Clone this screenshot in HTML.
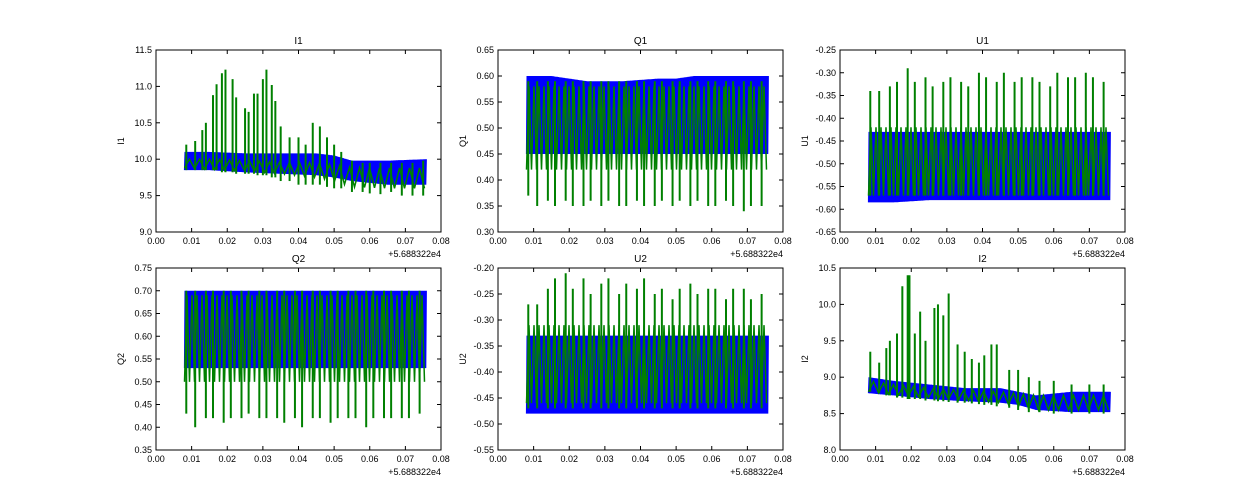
<!DOCTYPE html>
<html><head><meta charset="utf-8"><style>
body{margin:0;background:#fff}
svg{display:block;font-family:"Liberation Sans",sans-serif}
</style></head><body>
<svg id="fig" width="1250" height="500" viewBox="0 0 1250 500"></svg>
<script>
const xTicks=[0.00,0.01,0.02,0.03,0.04,0.05,0.06,0.07,0.08];
const blueX=[0.008,0.015,0.025,0.035,0.045,0.05,0.055,0.065,0.076];
const spikeXReg=[0.0085,0.011,0.014,0.016,0.019,0.021,0.024,0.026,0.029,0.031,0.034,0.036,0.039,0.041,0.044,0.046,0.049,0.051,0.054,0.056,0.059,0.061,0.064,0.066,0.069,0.071,0.074];

const i1BlueLo=[9.85,9.85,9.82,9.8,9.78,9.75,9.7,9.65,9.65];
const i1BlueHi=[10.1,10.1,10.08,10.08,10.08,10.05,9.98,9.98,10.0];
const i1GreenLo=[9.88,9.86,9.84,9.8,9.75,9.7,9.62,9.6,9.6];
const i1GreenHi=[10.0,10.0,9.98,9.96,9.95,9.92,9.88,9.88,9.88];
const i1SpikeX=[0.0085,0.011,0.013,0.014,0.016,0.017,0.0185,0.0195,0.0215,0.0225,0.025,0.026,0.0275,0.0285,0.030,0.031,0.0325,0.0335,0.035,0.0375,0.040,0.042,0.044,0.046,0.048,0.050,0.052,0.055,0.058,0.060,0.063,0.066,0.069,0.072,0.075];
const i1SpikeTop=[10.2,10.25,10.4,10.5,10.88,11.03,11.18,11.23,11.1,10.85,10.7,10.65,10.9,10.9,11.1,11.23,11.02,10.8,10.45,10.3,10.3,10.2,10.5,10.45,10.3,10.2,10.1,9.98,9.95,9.95,9.95,9.95,9.95,9.95,9.98];
const i1SpikeBot=[9.85,9.85,9.85,9.85,9.85,9.85,9.82,9.82,9.82,9.8,9.8,9.8,9.8,9.78,9.78,9.78,9.75,9.75,9.7,9.7,9.65,9.65,9.65,9.65,9.62,9.6,9.6,9.55,9.55,9.53,9.52,9.55,9.5,9.5,9.5];

const q1BlueLo=[0.45,0.45,0.45,0.45,0.45,0.45,0.45,0.45,0.45];
const q1BlueHi=[0.60,0.60,0.59,0.59,0.595,0.595,0.60,0.60,0.60];
const q1GreenLo=[0.42,0.42,0.42,0.42,0.42,0.42,0.42,0.42,0.42];
const q1GreenHi=[0.58,0.58,0.58,0.58,0.58,0.58,0.58,0.58,0.58];
const q1SpikeTop=[0.59,0.59,0.59,0.59,0.59,0.59,0.59,0.59,0.59,0.59,0.59,0.59,0.59,0.59,0.59,0.59,0.59,0.59,0.59,0.59,0.59,0.59,0.59,0.59,0.59,0.59,0.59];
const q1SpikeBot=[0.37,0.35,0.36,0.35,0.36,0.35,0.35,0.36,0.35,0.36,0.35,0.35,0.36,0.35,0.35,0.36,0.35,0.36,0.35,0.36,0.35,0.35,0.36,0.35,0.34,0.35,0.35];

const u1BlueLo=[-0.585,-0.585,-0.58,-0.58,-0.58,-0.58,-0.58,-0.58,-0.58];
const u1BlueHi=[-0.43,-0.43,-0.43,-0.43,-0.43,-0.43,-0.43,-0.43,-0.43];
const u1GreenLo=[-0.57,-0.57,-0.57,-0.57,-0.57,-0.57,-0.57,-0.57,-0.57];
const u1GreenHi=[-0.42,-0.42,-0.42,-0.42,-0.42,-0.42,-0.42,-0.42,-0.42];
const u1SpikeTop=[-0.34,-0.34,-0.33,-0.32,-0.29,-0.32,-0.31,-0.33,-0.32,-0.31,-0.32,-0.33,-0.30,-0.31,-0.32,-0.30,-0.32,-0.31,-0.31,-0.32,-0.33,-0.30,-0.31,-0.31,-0.30,-0.31,-0.32];
const u1SpikeBot=[-0.57,-0.57,-0.57,-0.57,-0.57,-0.57,-0.57,-0.57,-0.57,-0.57,-0.57,-0.57,-0.57,-0.57,-0.57,-0.57,-0.57,-0.57,-0.57,-0.57,-0.57,-0.57,-0.57,-0.57,-0.57,-0.57,-0.57];

const q2BlueLo=[0.53,0.53,0.53,0.53,0.53,0.53,0.53,0.53,0.53];
const q2BlueHi=[0.70,0.70,0.70,0.70,0.70,0.70,0.70,0.70,0.70];
const q2GreenLo=[0.50,0.50,0.50,0.50,0.50,0.50,0.50,0.50,0.50];
const q2GreenHi=[0.69,0.69,0.69,0.69,0.69,0.69,0.69,0.69,0.69];
const q2SpikeTop=[0.70,0.70,0.70,0.70,0.70,0.70,0.70,0.70,0.70,0.70,0.70,0.70,0.70,0.70,0.70,0.70,0.70,0.70,0.70,0.70,0.70,0.70,0.70,0.70,0.70,0.70,0.70];
const q2SpikeBot=[0.43,0.40,0.42,0.42,0.41,0.42,0.42,0.43,0.42,0.42,0.42,0.41,0.42,0.40,0.42,0.42,0.41,0.42,0.42,0.42,0.40,0.42,0.42,0.42,0.42,0.42,0.43];

const u2BlueLo=[-0.48,-0.48,-0.48,-0.48,-0.48,-0.48,-0.48,-0.48,-0.48];
const u2BlueHi=[-0.33,-0.33,-0.33,-0.33,-0.33,-0.33,-0.33,-0.33,-0.33];
const u2GreenLo=[-0.46,-0.46,-0.46,-0.46,-0.46,-0.46,-0.46,-0.46,-0.46];
const u2GreenHi=[-0.31,-0.31,-0.31,-0.31,-0.31,-0.31,-0.31,-0.31,-0.31];
const u2SpikeTop=[-0.27,-0.27,-0.24,-0.22,-0.21,-0.24,-0.22,-0.25,-0.23,-0.22,-0.25,-0.23,-0.24,-0.22,-0.25,-0.24,-0.26,-0.24,-0.23,-0.25,-0.24,-0.24,-0.26,-0.24,-0.24,-0.26,-0.25];
const u2SpikeBot=[-0.47,-0.47,-0.47,-0.47,-0.47,-0.47,-0.47,-0.47,-0.47,-0.47,-0.47,-0.47,-0.47,-0.47,-0.47,-0.47,-0.47,-0.47,-0.47,-0.47,-0.47,-0.47,-0.47,-0.47,-0.47,-0.47,-0.47];

const i2BlueLo=[8.78,8.75,8.7,8.67,8.65,8.62,8.55,8.52,8.52];
const i2BlueHi=[9.0,8.95,8.9,8.85,8.85,8.8,8.75,8.8,8.8];
const i2GreenLo=[8.8,8.76,8.72,8.68,8.65,8.6,8.55,8.55,8.55];
const i2GreenHi=[8.95,8.9,8.85,8.82,8.8,8.78,8.75,8.75,8.75];
const i2SpikeX=[0.0085,0.011,0.013,0.014,0.016,0.0175,0.019,0.0195,0.021,0.0225,0.024,0.0265,0.0275,0.029,0.0305,0.033,0.035,0.037,0.039,0.0405,0.0425,0.044,0.0475,0.050,0.053,0.056,0.060,0.065,0.070,0.074];
const i2SpikeTop=[9.35,9.2,9.4,9.5,9.6,10.25,10.4,10.4,9.6,9.9,9.5,9.95,10.0,9.85,10.15,9.45,9.35,9.25,9.2,9.3,9.45,9.45,9.1,9.1,9.0,8.95,8.95,8.9,8.9,8.9];
const i2SpikeBot=[8.8,8.78,8.75,8.75,8.72,8.72,8.7,8.7,8.7,8.7,8.68,8.68,8.67,8.67,8.66,8.65,8.65,8.64,8.63,8.62,8.62,8.6,8.58,8.55,8.52,8.52,8.5,8.5,8.5,8.5];

const panels=[
 {name:"i1",title:"I1",col:0,row:0,yMin:9,yMax:11.5,yTicks:[9.0,9.5,10.0,10.5,11.0,11.5],dec:1,gStep:5,bLo:i1BlueLo,bHi:i1BlueHi,gLo:i1GreenLo,gHi:i1GreenHi,sX:i1SpikeX,sT:i1SpikeTop,sB:i1SpikeBot},
 {name:"q1",title:"Q1",col:1,row:0,yMin:0.30,yMax:0.65,yTicks:[0.30,0.35,0.40,0.45,0.50,0.55,0.60,0.65],dec:2,gStep:2.5,bLo:q1BlueLo,bHi:q1BlueHi,gLo:q1GreenLo,gHi:q1GreenHi,sX:spikeXReg,sT:q1SpikeTop,sB:q1SpikeBot},
 {name:"u1",title:"U1",col:2,row:0,yMin:-0.65,yMax:-0.25,yTicks:[-0.65,-0.60,-0.55,-0.50,-0.45,-0.40,-0.35,-0.30,-0.25],dec:2,gStep:2.5,bLo:u1BlueLo,bHi:u1BlueHi,gLo:u1GreenLo,gHi:u1GreenHi,sX:spikeXReg,sT:u1SpikeTop,sB:u1SpikeBot},
 {name:"q2",title:"Q2",col:0,row:1,yMin:0.35,yMax:0.75,yTicks:[0.35,0.40,0.45,0.50,0.55,0.60,0.65,0.70,0.75],dec:2,gStep:2.5,bLo:q2BlueLo,bHi:q2BlueHi,gLo:q2GreenLo,gHi:q2GreenHi,sX:spikeXReg,sT:q2SpikeTop,sB:q2SpikeBot},
 {name:"u2",title:"U2",col:1,row:1,yMin:-0.55,yMax:-0.20,yTicks:[-0.55,-0.50,-0.45,-0.40,-0.35,-0.30,-0.25,-0.20],dec:2,gStep:2.5,bLo:u2BlueLo,bHi:u2BlueHi,gLo:u2GreenLo,gHi:u2GreenHi,sX:spikeXReg,sT:u2SpikeTop,sB:u2SpikeBot},
 {name:"i2",title:"I2",col:2,row:1,yMin:8.0,yMax:10.5,yTicks:[8.0,8.5,9.0,9.5,10.0,10.5],dec:1,gStep:5,bLo:i2BlueLo,bHi:i2BlueHi,gLo:i2GreenLo,gHi:i2GreenHi,sX:i2SpikeX,sT:i2SpikeTop,sB:i2SpikeBot}
];

const NS="http://www.w3.org/2000/svg";
const svg=document.getElementById('fig');
function mk(tag,attrs,parent){const e=document.createElementNS(NS,tag);for(const k in attrs)e.setAttribute(k,attrs[k]);(parent||svg).appendChild(e);return e;}
function interp(xs,ys,x){if(x<=xs[0])return ys[0];for(let i=1;i<xs.length;i++){if(x<=xs[i]){const t=(x-xs[i-1])/(xs[i]-xs[i-1]);return ys[i-1]+t*(ys[i]-ys[i-1]);}}return ys[ys.length-1];}
const colL=[156,498,840],rowT=[50,268],W=285,H=182;

panels.forEach(p=>{
 const L=colL[p.col],T=rowT[p.row];
 const g=mk('g',{});
 
 
 const X=v=>L+(v-xTicks[0])/(xTicks[xTicks.length-1]-xTicks[0])*W;
 const Y=v=>T+H-(v-p.yMin)/(p.yMax-p.yMin)*H;
 const cg=mk('clipPath',{id:'c'+p.name},g);mk('rect',{x:L,y:T,width:W,height:H},cg);
 const plot=mk('g',{'clip-path':'url(#c'+p.name+')'},g);
 let d='',k=0;const x0=X(blueX[0]),x1=X(blueX[blueX.length-1]);
 for(let px=x0;px<=x1;px+=0.6,k++){const v=(px-L)/W*(xTicks[8]-xTicks[0]);const val=k%2?interp(blueX,p.bHi,v):interp(blueX,p.bLo,v);d+=(k?'L':'M')+px.toFixed(1)+' '+Y(val).toFixed(1);}
 const bl=mk('path',{d:d,fill:'none',stroke:'#0000ff','stroke-width':1.2},plot);
 
 
 d='';k=0;
 for(let px=x0;px<=x1;px+=p.gStep,k++){const v=(px-L)/W*(xTicks[8]-xTicks[0]);const val=k%2?interp(blueX,p.gHi,v):interp(blueX,p.gLo,v);d+=(k?'L':'M')+px.toFixed(1)+' '+Y(val).toFixed(1);}
 const gl=mk('path',{d:d,fill:'none',stroke:'#008000','stroke-width':1.5},plot);
 
 
 p.sX.forEach((sx,i)=>{
  const s=mk('line',{x1:X(sx),x2:X(sx),y1:Y(p.sT[i]),y2:Y(p.sB[i]),stroke:'#008000','stroke-width':2},plot);
  
  
 });
 const fr=mk('rect',{x:L,y:T,width:W,height:H,fill:'none',stroke:'#000','stroke-width':1},g);
 
 
 xTicks.forEach(t=>{
  const x=X(t);
  mk('line',{x1:x,x2:x,y1:T+H,y2:T+H-4,stroke:'#000'},g);
  mk('line',{x1:x,x2:x,y1:T,y2:T+4,stroke:'#000'},g);
  const tx=mk('text',{x:x,y:T+H+12,'font-size':9,'text-anchor':'middle',fill:'#000'},g);
  tx.textContent=t.toFixed(2);
  
  
 });
 p.yTicks.forEach(t=>{
  const y=Y(t);
  mk('line',{x1:L,x2:L+4,y1:y,y2:y,stroke:'#000'},g);
  mk('line',{x1:L+W,x2:L+W-4,y1:y,y2:y,stroke:'#000'},g);
  const tx=mk('text',{x:L-4,y:y+3,'font-size':9,'text-anchor':'end',fill:'#000'},g);
  tx.textContent=t.toFixed(p.dec);
  
  
 });
 const off=mk('text',{x:L+W,y:T+H+25,'font-size':9,'text-anchor':'end',fill:'#000'},g);
 off.textContent='+5.688322e4';
 
 
 const ti=mk('text',{x:L+W/2,y:T-6,'font-size':10,'text-anchor':'middle',fill:'#000'},g);
 ti.textContent=p.title;
 
 
 const yl=mk('text',{x:0,y:0,'font-size':9,'text-anchor':'middle',fill:'#000',transform:'translate('+(L-32)+','+(T+H/2)+') rotate(-90)'},g);
 yl.textContent=p.title;
 
 
});
</script>
</body></html>
